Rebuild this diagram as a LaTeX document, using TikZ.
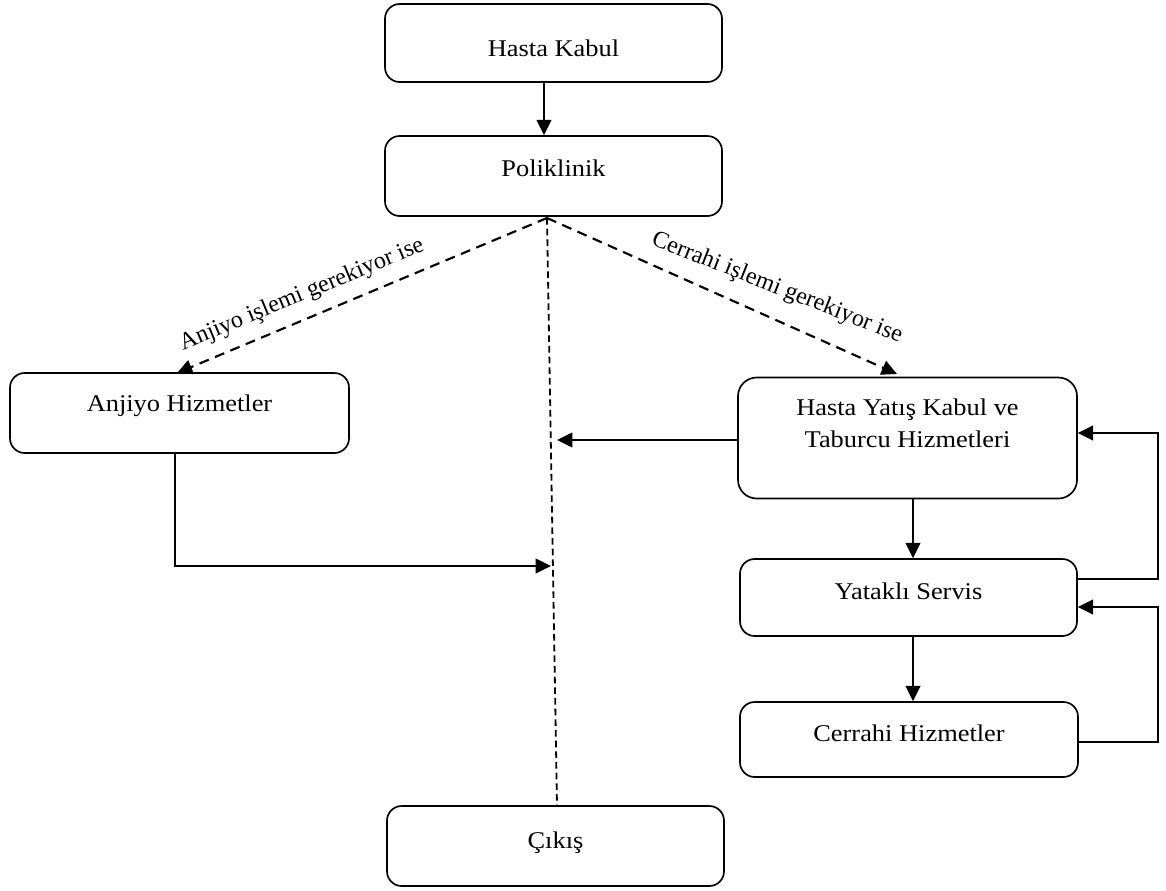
\documentclass[tikz,border=0pt]{standalone}
\usepackage{fontspec}
\setmainfont{Liberation Serif}
\usetikzlibrary{arrows.meta}

\newcommand{\boxfont}{\fontsize{18pt}{24pt}\selectfont}

\tikzset{
  stagebox/.style={draw=black, line width=1.25pt, rounded corners=11pt,
    inner sep=0pt, fill=white},
  lbl/.style={font=\boxfont, inner sep=0pt, xscale=1.1, transform shape,
    anchor=base, align=center},
  edgelbl/.style={font=\boxfont, inner sep=0pt, transform shape},
  flow/.style={line width=1.6pt, -{Triangle[length=11.5pt,width=11pt]}},
  choice/.style={line width=1.6pt, dash pattern=on 7.5pt off 5pt,
    -{Triangle[length=11.5pt,width=11pt]}},
  exitline/.style={line width=1.35pt, dash pattern=on 5pt off 3pt}
}

\begin{document}
\begin{tikzpicture}[x=0.75pt, y=-0.75pt]
  \useasboundingbox (0,0) rectangle (1166,890);

  % stages
  \node[stagebox, minimum width=337*0.75pt, minimum height=78*0.75pt] (hk) at (553.5,43) {};
  \node[stagebox, minimum width=337*0.75pt, minimum height=80*0.75pt] (pol) at (553.5,176) {};
  \node[stagebox, minimum width=339*0.75pt, minimum height=80*0.75pt] (anj) at (179.5,413) {};
  \node[stagebox, rounded corners=14pt, minimum width=339*0.75pt, minimum height=121*0.75pt] (hy) at (907.5,438) {};
  \node[stagebox, minimum width=337*0.75pt, minimum height=77*0.75pt] (ys) at (908.5,597.5) {};
  \node[stagebox, minimum width=338*0.75pt, minimum height=75*0.75pt] (ch) at (909,739.5) {};
  \node[stagebox, minimum width=337*0.75pt, minimum height=80*0.75pt] (cik) at (555.5,846) {};

  % stage titles
  \node[lbl] (hkT) at (553.5,56) {Hasta Kabul};
  \node[lbl] (polT) at (553.5,176) {Poliklinik};
  \node[lbl] (anjT) at (179.5,411) {Anjiyo Hizmetler};
  \node[lbl] (hyT1) at (907.5,415) {Hasta Yatış Kabul ve};
  \node[lbl] (hyT2) at (907.5,447) {Taburcu Hizmetleri};
  \node[lbl] (ysT) at (908.5,599) {Yataklı Servis};
  \node[lbl] (chT) at (909,741) {Cerrahi Hizmetler};
  \node[lbl] (cikT) at (555.5,848) {Çıkış};

  % branching point under Poliklinik and line ends
  \coordinate (j) at (547,218);
  \coordinate (anjIn) at (177,373);
  \coordinate (hyIn) at (897,374);
  \coordinate (cikIn) at (557,806);
  \coordinate (fromHy) at (557,440);
  \coordinate (fromAnj) at (551,566);
  \coordinate (loopA) at (1158,579);
  \coordinate (loopB) at (1158,742);

  % main flow
  \draw[flow] (hk.south -| 544,0) -- (pol.north -| 544,0);
  \draw[choice] (j) -- (anjIn);
  \draw[choice] (j) -- (hyIn);
  \draw[exitline] (j) -- (cikIn);

  \node[edgelbl, rotate=22.5] (anjLbl) at (302,295) {Anjiyo işlemi gerekiyor ise};
  \node[edgelbl, rotate=-21.5] (hyLbl) at (777,288) {Cerrahi işlemi gerekiyor ise};

  % returns toward the exit
  \draw[flow] (hy.west |- fromHy) -- (fromHy);
  \draw[flow] (anj.south -| 175,0) |- (fromAnj);

  % inpatient chain
  \draw[flow] (hy.south -| 913,0) -- (ys.north -| 913,0);
  \draw[flow] (ys.south -| 913,0) -- (ch.north -| 913,0);

  % feedback loops on the right
  \draw[flow] (ys.east |- loopA) -- (loopA) |- (hy.east |- 0,433);
  \draw[flow] (ch.east |- loopB) -- (loopB) |- (ys.east |- 0,607);
\end{tikzpicture}
\end{document}
